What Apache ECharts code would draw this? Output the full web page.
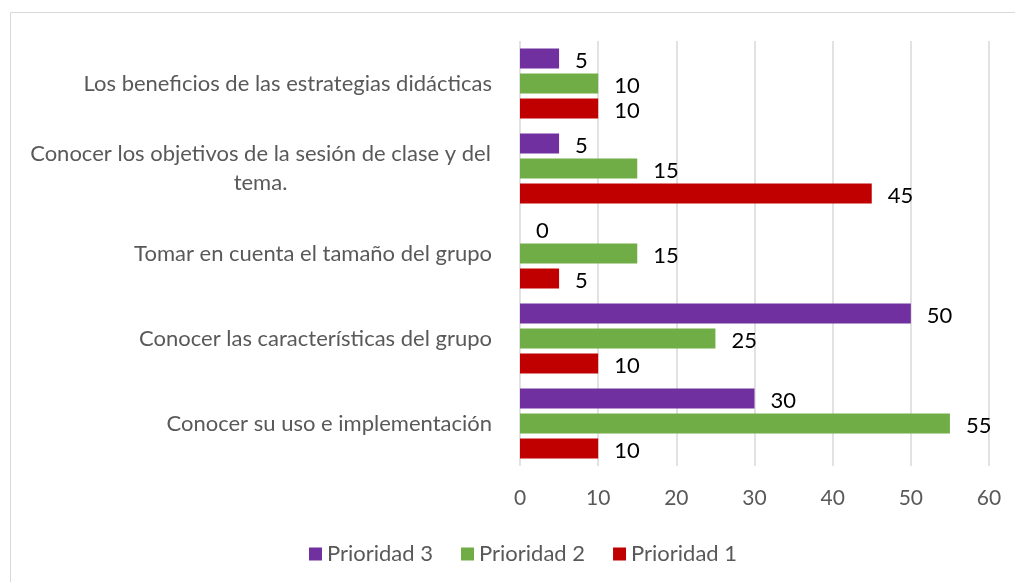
<!DOCTYPE html>
<html>
<head>
<meta charset="utf-8">
<script src="https://cdn.jsdelivr.net/npm/echarts@6/dist/echarts.min.js"></script>
<style>
  html, body { margin: 0; padding: 0; background: #fff; }
  #chart { width: 1015px; height: 582px; }
</style>
</head>
<body>
<div id="chart"></div>
<script>
  // 类别（从下到上）
  const categories = [
    'Conocer su uso e implementación',
    'Conocer las características del grupo',
    'Tomar en cuenta el tamaño del grupo',
    'Conocer los objetivos de la sesión de clase y del\ntema.',
    'Los beneficios de las estrategias didácticas',
  ]

  // 各优先级数值
  const prioridad1 = [10, 10, 5, 45, 10]
  const prioridad2 = [55, 25, 15, 15, 10]
  const prioridad3 = [30, 50, 0, 5, 5]

  const xTicks = { min: 0, max: 60, interval: 10 }

  const chart = echarts.init(document.getElementById('chart'))

  const font = 'Lato'

  const barSeries = (name, data, color) => ({
    name: name,
    type: 'bar',
    data: data,
    barWidth: 20,
    barGap: '25%',
    barCategoryGap: '17.6%',
    itemStyle: { color: color },
    label: {
      show: true,
      position: 'right',
      distance: 16,
      offset: [0, 2],
      color: '#000',
      fontSize: 22,
      fontFamily: font,
    },
  })

  const option = {
    backgroundColor: '#fff',
    animation: false,
    graphic: [
      {
        type: 'rect',
        shape: { x: 10.5, y: 12.5, width: 1020, height: 600 },
        style: { fill: 'none', stroke: '#d9d9d9', lineWidth: 1 },
        silent: true,
      },
    ],
    grid: {
      left: 520,
      right: 26,
      top: 41,
      height: 425,
    },
    legend: {
      top: 538,
      left: 304,
      itemWidth: 13,
      itemHeight: 13,
      itemGap: 28,
      icon: 'rect',
      data: ['Prioridad 3', 'Prioridad 2', 'Prioridad 1'],
      textStyle: { color: '#595959', fontSize: 22, fontFamily: font },
    },
    xAxis: {
      type: 'value',
      min: xTicks.min,
      max: xTicks.max,
      interval: xTicks.interval,
      axisLine: { show: false },
      axisTick: { show: false },
      axisLabel: {
        color: '#595959',
        fontSize: 21,
        fontFamily: font,
        margin: 22,
      },
      splitLine: { lineStyle: { color: '#d9d9d9', width: 1.5 } },
    },
    yAxis: {
      type: 'category',
      data: categories,
      axisLine: { show: false },
      axisTick: { show: false },
      axisLabel: {
        color: '#595959',
        fontSize: 22,
        fontFamily: font,
        margin: 28,
        formatter: (v) =>
          v.includes('\n')
            ? v.split('\n').map((s) => '{c|' + s + '}').join('\n')
            : v,
        rich: {
          c: {
            width: 463,
            align: 'center',
            lineHeight: 29,
            color: '#595959',
            fontSize: 22,
            fontFamily: font,
          },
        },
      },
    },
    // 第一个系列显示在最上方
    series: [
      barSeries('Prioridad 3', prioridad3, '#7030a0'),
      barSeries('Prioridad 2', prioridad2, '#70ad47'),
      barSeries('Prioridad 1', prioridad1, '#c00000'),
    ],
  }

  chart.setOption(option)
</script>
</body>
</html>
